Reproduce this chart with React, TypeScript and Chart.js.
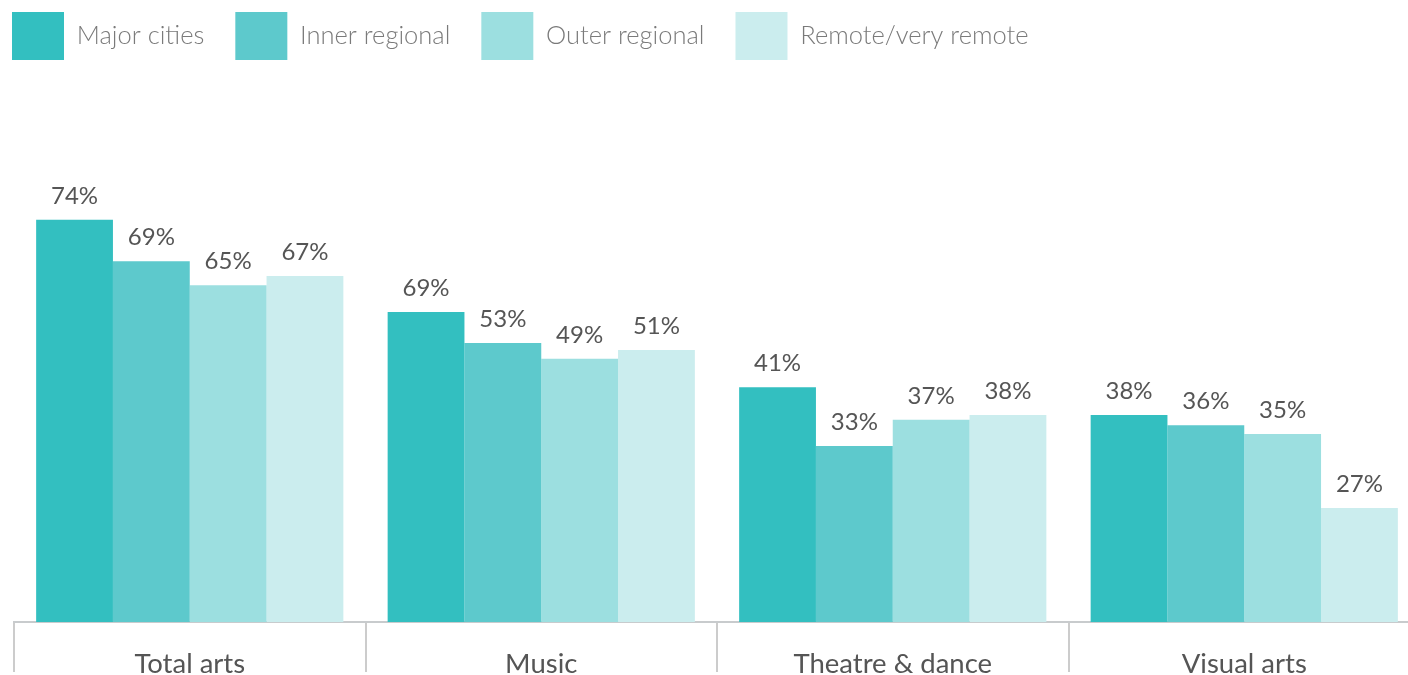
import React, { useEffect, useRef } from 'react';
import { Chart, registerables } from 'chart.js';

Chart.register(...registerables);

// ---- data ----
const categories = ['Total arts', 'Music', 'Theatre & dance', 'Visual arts'];
const seriesNames = ['Major cities', 'Inner regional', 'Outer regional', 'Remote/very remote'];

// printed percentage labels
const majorCitiesPct = [74, 69, 41, 38];
const innerRegionalPct = [69, 53, 33, 36];
const outerRegionalPct = [65, 49, 37, 35];
const remotePct = [67, 51, 38, 27];

// bar heights as drawn in the picture (the source drawing is not exactly proportional to its labels)
const majorCitiesBars = [73.8, 56.9, 43.1, 38.0];
const innerRegionalBars = [66.2, 51.2, 32.3, 36.1];
const outerRegionalBars = [61.8, 48.3, 37.1, 34.5];
const remoteBars = [63.5, 49.9, 38.0, 20.9];

const seriesColors = ['#33bfc0', '#5dc9cc', '#9cdfe0', '#cbedee'];

const pctLabels = [majorCitiesPct, innerRegionalPct, outerRegionalPct, remotePct];
const barValues = [majorCitiesBars, innerRegionalBars, outerRegionalBars, remoteBars];

const FONT = 'Lato, "Open Sans", sans-serif';

const valueLabelPlugin = {
  id: 'valueLabels',
  afterDatasetsDraw(chart: any) {
    const ctx = chart.ctx;
    ctx.save();
    ctx.font = `400 24px ${FONT}`;
    ctx.fillStyle = '#555555';
    ctx.textAlign = 'center';
    ctx.textBaseline = 'alphabetic';
    chart.data.datasets.forEach((_ds: any, i: number) => {
      const meta = chart.getDatasetMeta(i);
      meta.data.forEach((el: any, j: number) => {
        ctx.fillText(`${pctLabels[i][j]}%`, el.x, el.y - 16);
      });
    });
    ctx.restore();
  },
};

export default function App() {
  const ref = useRef<HTMLCanvasElement | null>(null);

  useEffect(() => {
    if (!ref.current) return;
    Chart.defaults.font.family = FONT;
    const chart = new Chart(ref.current, {
      type: 'bar',
      data: {
        labels: categories,
        datasets: seriesNames.map((name, i) => ({
          label: name,
          data: barValues[i],
          backgroundColor: seriesColors[i],
          borderWidth: 0,
          categoryPercentage: 0.874,
          barPercentage: 1,
        })),
      },
      options: {
        responsive: false,
        animation: false,
        devicePixelRatio: 1,
        layout: { padding: { left: -19, top: -19, right: 0, bottom: 0 } },
        plugins: {
          legend: {
            position: 'top',
            align: 'start',
            labels: {
              boxWidth: 52,
              boxHeight: 48,
              padding: 31,
              color: '#7a7a7a',
              font: { size: 25.5, weight: '300', family: FONT },
            },
          },
          tooltip: { enabled: false },
        },
        scales: {
          x: {
            grid: {
              display: true,
              drawOnChartArea: false,
              drawTicks: true,
              tickLength: 50,
              offset: true,
              color: '#cccccc',
              lineWidth: 2,
            },
            border: { display: true, color: '#c8cbcd', width: 2 },
            ticks: {
              color: '#555555',
              padding: -24,
              font: { size: 27.5, weight: '400', family: FONT },
            },
            afterFit(scale: any) {
              scale.height = 53;
            },
          },
          y: {
            min: 0,
            max: 101.3,
            display: true,
            grid: { display: false },
            border: { display: false },
            ticks: { display: false },
            afterFit(scale: any) {
              scale.width = 33;
            },
          },
        },
      },
      plugins: [valueLabelPlugin],
    } as any);
    return () => chart.destroy();
  }, []);

  return (
    <div
      style={{
        position: 'fixed',
        left: 0,
        top: 0,
        width: 1408,
        height: 675,
        overflow: 'hidden',
        background: '#ffffff',
      }}
    >
      <canvas ref={ref} width={1420} height={675} style={{ display: 'block' }} />
    </div>
  );
}
